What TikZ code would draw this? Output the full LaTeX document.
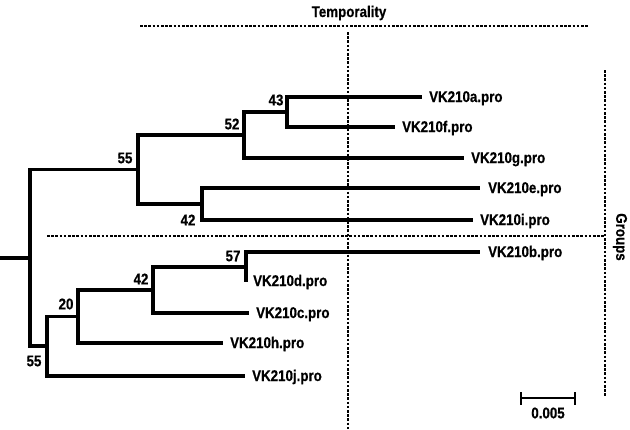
\documentclass[tikz,border=0pt]{standalone}
\usepackage{fontspec}
\setmainfont{Liberation Sans}[FakeStretch=0.86,BoldFeatures={FakeBold=0.6}]
\begin{document}
\begin{tikzpicture}[x=1pt,y=-1pt,
  branch/.style={line width=3.4pt,line join=miter},
  guide/.style={line width=1.1pt,dash pattern=on 2.6pt off 1.6pt},
  leaflab/.style={anchor=base west,inner sep=0pt,font=\bfseries\fontsize{15.5}{17}\selectfont},
  boot/.style={anchor=center,inner sep=0pt,font=\bfseries\fontsize{15.5}{17}\selectfont},
  title/.style={inner sep=0pt,font=\bfseries\fontsize{15.5}{17}\selectfont}]
\useasboundingbox (0,0) rectangle (630,429);
% internal nodes
\coordinate (stub) at (0,258);
\coordinate (root) at (30,258);
\coordinate (n55u) at (138,169.5);
\coordinate (n52) at (244,135);
\coordinate (n43) at (287,112);
\coordinate (n42u) at (202,204);
\coordinate (n55l) at (47,346);
\coordinate (n20) at (78,316.5);
\coordinate (n42l) at (153,290);
\coordinate (n57) at (246,267);
% leaf ends
\coordinate (ea) at (422,97);
\coordinate (ef) at (395,127);
\coordinate (eg) at (464,158);
\coordinate (ee) at (480,188);
\coordinate (ei) at (473,220);
\coordinate (eb) at (480,252);
\coordinate (ed) at (246,282);
\coordinate (ec) at (249,313);
\coordinate (eh) at (223,343);
\coordinate (ej) at (245,376);
% guides
\coordinate (t1) at (140,26);
\coordinate (t2) at (588,26);
\coordinate (v1) at (348,32);
\coordinate (v2) at (348,429);
\coordinate (r1) at (605,70);
\coordinate (r2) at (605,397);
\coordinate (m1) at (47,236);
\coordinate (m2) at (605,236);
\draw[guide] (t1) -- (t2);
\draw[guide] (v1) -- (v2);
\draw[guide] (r1) -- (r2);
\draw[guide] (m1) -- (m2);
\node[title] (temp) at (349,13) {Temporality};
\node[title,rotate=-90] (groups) at (620,237) {Groups};
% tree
\draw[branch] (stub) -- (root);
\draw[branch] (root) |- (n55u);
\draw[branch] (root) |- (n55l);
\draw[branch] (n55u) |- (n52);
\draw[branch] (n55u) |- (n42u);
\draw[branch] (n52) |- (n43);
\draw[branch] (n52) |- (eg);
\draw[branch] (n43) |- (ea);
\draw[branch] (n43) |- (ef);
\draw[branch] (n42u) |- (ee);
\draw[branch] (n42u) |- (ei);
\draw[branch] (n55l) |- (n20);
\draw[branch] (n55l) |- (ej);
\draw[branch] (n20) |- (n42l);
\draw[branch] (n20) |- (eh);
\draw[branch] (n42l) |- (n57);
\draw[branch] (n42l) |- (ec);
\draw[branch] (n57) |- (eb);
\draw[branch] (n57) -- (ed);
% leaf labels
\node[leaflab] (la) at (429,102) {VK210a.pro};
\node[leaflab] (lf) at (402,132) {VK210f.pro};
\node[leaflab] (lg) at (471,163) {VK210g.pro};
\node[leaflab] (le) at (488,193) {VK210e.pro};
\node[leaflab] (li) at (480,225) {VK210i.pro};
\node[leaflab] (lb) at (488,257) {VK210b.pro};
\node[leaflab] (ld) at (253,286) {VK210d.pro};
\node[leaflab] (lc) at (256,318) {VK210c.pro};
\node[leaflab] (lh) at (230,348) {VK210h.pro};
\node[leaflab] (lj) at (252,381) {VK210j.pro};
% bootstrap values
\node[boot] (b43) at (276,100) {43};
\node[boot] (b52) at (232,124) {52};
\node[boot] (b55u) at (125,158) {55};
\node[boot] (b42u) at (188,220) {42};
\node[boot] (b57) at (233,256) {57};
\node[boot] (b42l) at (141,279) {42};
\node[boot] (b20) at (66,304) {20};
\node[boot] (b55l) at (34,361) {55};
% scale bar
\coordinate (s1) at (521,398);
\coordinate (s2) at (575,398);
\draw[line width=2.2pt] (s1) -- (s2);
\draw[line width=2.2pt] ([yshift=-6.5pt]s1) -- ([yshift=6.5pt]s1);
\draw[line width=2.2pt] ([yshift=-6.5pt]s2) -- ([yshift=6.5pt]s2);
\node[boot] (sl) at (548,413) {0.005};
\end{tikzpicture}
\end{document}
